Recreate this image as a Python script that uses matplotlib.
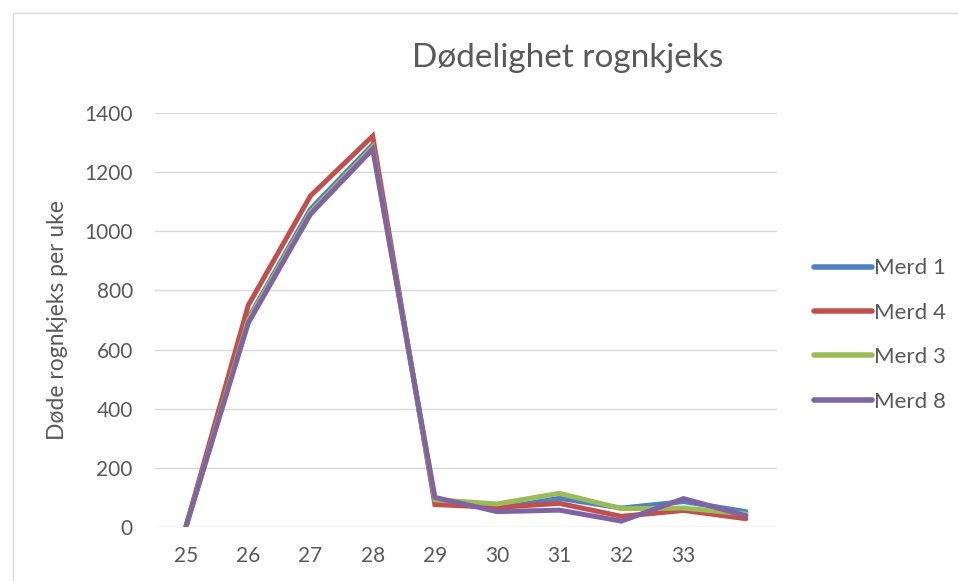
import matplotlib

matplotlib.use("Agg")
import matplotlib.pyplot as plt
from matplotlib.patches import Rectangle

# weeks (last category has no label)
weeks = ["25", "26", "27", "28", "29", "30", "31", "32", "33", ""]

merd1 = [3, 705, 1075, 1293, 88, 62, 97, 64, 86, 52]
merd4 = [3, 750, 1120, 1322, 76, 66, 80, 36, 56, 28]
merd3 = [3, 700, 1065, 1285, 92, 78, 114, 62, 64, 44]
merd8 = [3, 690, 1058, 1278, 100, 52, 57, 20, 96, 38]

series = [("Merd 1", merd1, "#4F81BD"),
          ("Merd 4", merd4, "#C0504D"),
          ("Merd 3", merd3, "#9BBB59"),
          ("Merd 8", merd8, "#8064A2")]

TXT = "#595959"
plt.rcParams["font.family"] = ["Lato", "DejaVu Sans"]

fig = plt.figure(figsize=(9.58, 5.81), dpi=100)
# outer chart frame
fig.patches.append(Rectangle((13 / 958, -0.05), 1.0, 1 - 13 / 581 + 0.05,
                             transform=fig.transFigure, fill=False,
                             edgecolor="#D9D9D9", lw=1.0))

ax = fig.add_axes([155 / 958, 54 / 581, 622 / 958, 414 / 581])
x = list(range(len(weeks)))
for name, vals, col in series:
    ax.plot(x, vals, color=col, lw=3.6, label=name, solid_joinstyle="miter",
            solid_capstyle="round")

ax.set_xlim(-0.5, len(weeks) - 0.5)
ax.set_ylim(0, 1400)
ax.set_yticks(range(0, 1401, 200))
ax.set_xticks(x, weeks)
ax.grid(axis="y", color="#D9D9D9", lw=1.0)
ax.set_axisbelow(True)
for s in ax.spines.values():
    s.set_visible(False)
ax.tick_params(length=0, labelsize=15, labelcolor=TXT)
ax.tick_params(axis="x", pad=14)
ax.tick_params(axis="y", pad=16)
ax.set_ylabel("Døde rognkjeks per uke", fontsize=16.5, color=TXT, labelpad=12)

fig.text(568 / 958, 1 - 58 / 581, "Dødelighet rognkjeks", ha="center",
         va="center", fontsize=24, color=TXT)

leg = fig.legend(loc="center left", bbox_to_anchor=(794 / 958, 1 - 335 / 581),
                 frameon=False, fontsize=16, handlelength=2.6,
                 handletextpad=0.1, labelspacing=1.1, labelcolor=TXT)
for h in leg.get_lines():
    h.set_linewidth(4)

fig.savefig("out.png", dpi=100)
